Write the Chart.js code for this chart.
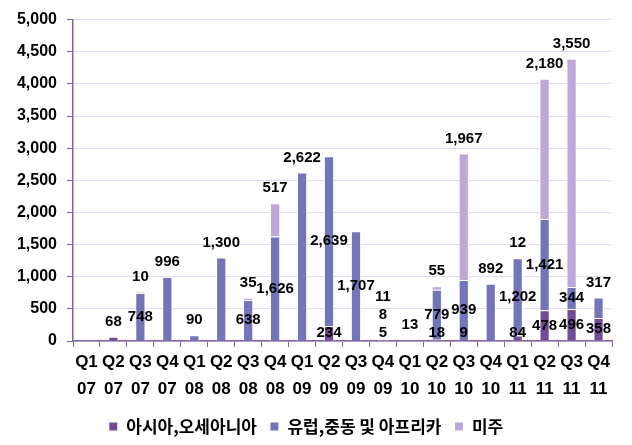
<!DOCTYPE html>
<html>
<head>
<meta charset="utf-8">
<script src="https://cdn.jsdelivr.net/npm/chart.js@4"></script>
<style>
  html, body { margin: 0; padding: 0; background: #fff; }
  #wrap { width: 632px; height: 445px; }
</style>
</head>
<body>
<div id="wrap"><canvas id="chart" width="632" height="445"></canvas></div>
<script>
// chart data
const quarters = ["Q1","Q2","Q3","Q4","Q1","Q2","Q3","Q4","Q1","Q2","Q3","Q4","Q1","Q2","Q3","Q4","Q1","Q2","Q3","Q4"];
const years = ["07","07","07","07","08","08","08","08","09","09","09","09","10","10","10","10","11","11","11","11"];
const seriesNames = ["아시아,오세아니아", "유럽,중동 및 아프리카", "미주"];
const asia = [0, 68, 0, 0, 0, 0, 0, 0, 0, 234, 0, 5, 0, 18, 9, 0, 84, 478, 496, 358];
const emea = [0, 0, 748, 996, 90, 1300, 638, 1626, 2622, 2639, 1707, 8, 13, 779, 939, 892, 1202, 1421, 344, 317];
const americas = [0, 0, 10, 0, 0, 0, 35, 517, 0, 0, 0, 11, 0, 55, 1967, 0, 12, 2180, 3550, 0];

const colors = ["#6F4E97", "#7474B8", "#BDA7D7"];
const axisColor = "#8064A2";
const labelFont = "bold 15px 'Liberation Sans', Arial, sans-serif";
// bars whose top label sits inside the bar (as in the original)
const centredTop = [9, 10];

// draws the value labels: centred in the segment, topmost one above the bar
const valueLabels = {
  id: "valueLabels",
  afterDatasetsDraw(chart) {
    const ctx = chart.ctx;
    const axisY = chart.scales.y.getPixelForValue(0);
    ctx.save();
    ctx.font = labelFont;
    ctx.fillStyle = "#000";
    ctx.textAlign = "center";
    ctx.textBaseline = "middle";
    const n = chart.data.labels.length;
    for (let i = 0; i < n; i++) {
      let top = -1;
      chart.data.datasets.forEach((ds, d) => { if (ds.data[i] > 0) top = d; });
      let prevY = null;
      chart.data.datasets.forEach((ds, d) => {
        const v = ds.data[i];
        if (!v) return;
        const bar = chart.getDatasetMeta(d).data[i];
        let y;
        if (d === top && !centredTop.includes(i)) {
          y = bar.y - 15;
        } else {
          y = Math.min((bar.y + bar.base) / 2, axisY - 8);
        }
        if (prevY !== null) y = Math.min(y, prevY - 18);
        prevY = y;
        ctx.fillText(v.toLocaleString("en-US"), bar.x, y);
      });
    }
    ctx.restore();
  }
};

new Chart(document.getElementById("chart").getContext("2d"), {
  type: "bar",
  data: {
    labels: quarters.map((q, i) => [q, years[i]]),
    datasets: [
      { label: seriesNames[0], data: asia, backgroundColor: colors[0] },
      { label: seriesNames[1], data: emea, backgroundColor: colors[1] },
      { label: seriesNames[2], data: americas, backgroundColor: colors[2] },
    ].map(ds => Object.assign(ds, {
      borderColor: "#ffffff",
      borderWidth: 1,
      borderSkipped: "bottom",
      barPercentage: 0.38,
      categoryPercentage: 1.0,
    })),
  },
  options: {
    responsive: false,
    animation: false,
    layout: { padding: { top: 10, right: 20, left: 0, bottom: 0 } },
    plugins: {
      legend: {
        position: "bottom",
        labels: {
          boxWidth: 9,
          boxHeight: 9,
          padding: 13,
          color: "#000",
          font: { family: "'Noto Sans CJK KR', sans-serif", size: 17, weight: "bold" },
        },
      },
      tooltip: { enabled: false },
    },
    scales: {
      x: {
        stacked: true,
        border: { color: axisColor, width: 1.5 },
        grid: { offset: true, drawOnChartArea: false, tickLength: 6, color: axisColor },
        ticks: {
          color: "#000",
          padding: 2,
          maxRotation: 0,
          autoSkip: false,
          font: { family: "'Liberation Sans', Arial, sans-serif", size: 17, weight: "bold", lineHeight: 1.6 },
        },
        afterFit(scale) { scale.height = 64; },
      },
      y: {
        stacked: true,
        min: 0,
        max: 5000,
        border: { color: axisColor, width: 1.5 },
        grid: { color: "#E2DAEE", tickColor: axisColor, tickLength: 6 },
        ticks: {
          stepSize: 500,
          color: "#000",
          padding: 10,
          font: { family: "'Liberation Sans', Arial, sans-serif", size: 16, weight: "bold" },
          callback: v => v.toLocaleString("en-US"),
        },
        afterFit(scale) { scale.width = 73; },
      },
    },
  },
  plugins: [valueLabels],
});
// dashed grid lines
const c = Chart.getChart("chart");
c.options.scales.y.grid.borderDash = [5, 4];
c.update();
</script>
</body>
</html>
